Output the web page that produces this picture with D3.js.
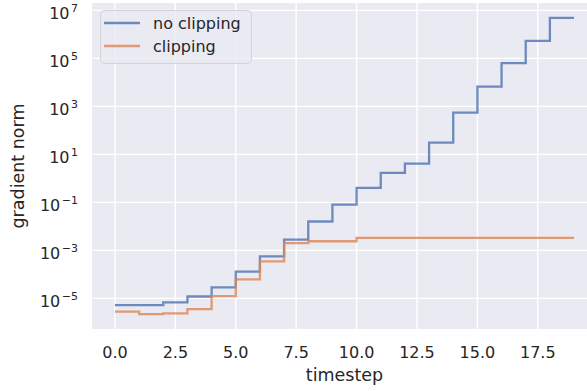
<!DOCTYPE html>
<html>
<head>
<meta charset="utf-8">
<script src="https://cdn.jsdelivr.net/npm/d3@7"></script>
<style>
  html, body { margin: 0; padding: 0; background: #ffffff; }
  svg { display: block; }
  text { font-family: "DejaVu Sans", sans-serif; fill: #262626; }
</style>
</head>
<body>
<svg id="chart" width="587" height="391"></svg>
<script>
// Gradient norm per timestep, with and without gradient clipping
const timesteps = d3.range(0, 20);
const noClipping = [5.2e-6, 5.2e-6, 6.8e-6, 1.2e-5, 2.9e-5, 1.3e-4, 5.6e-4, 2.8e-3, 1.6e-2, 8.0e-2,
                    0.40, 1.7, 4.1, 31, 550, 6600, 63000, 5.4e5, 4.9e6, 4.9e6];
const clipping = [2.8e-6, 2.2e-6, 2.4e-6, 3.6e-6, 1.25e-5, 6.2e-5, 3.5e-4, 2.0e-3, 2.4e-3, 2.4e-3,
                  3.3e-3, 3.3e-3, 3.3e-3, 3.3e-3, 3.3e-3, 3.3e-3, 3.3e-3, 3.3e-3, 3.3e-3, 3.3e-3];
const seriesNames = ["no clipping", "clipping"];
const xTicks = [0, 2.5, 5, 7.5, 10, 12.5, 15, 17.5, 20];
const yTickExponents = [-5, -3, -1, 1, 3, 5, 7];

const colors = ["#4C72B0", "#DD8452"];
const series = [noClipping, clipping];

const svg = d3.select("#chart");
const plot = { left: 92, right: 597, top: 3, bottom: 329 };

// Axis limits padded by 5% like matplotlib's default margins
const xMin = d3.min(timesteps), xMax = d3.max(timesteps);
const xPad = (xMax - xMin) * 0.05;
const x = d3.scaleLinear().domain([xMin - xPad, xMax + xPad]).range([plot.left, plot.right]);

const allLog = series.flat().map(v => Math.log10(v));
const lMin = d3.min(allLog), lMax = d3.max(allLog);
const lPad = (lMax - lMin) * 0.05;
const y = d3.scaleLog().domain([Math.pow(10, lMin - lPad), Math.pow(10, lMax + lPad)])
  .range([plot.bottom, plot.top]);

// Axes background
svg.append("rect")
  .attr("x", plot.left).attr("y", plot.top)
  .attr("width", plot.right - plot.left).attr("height", plot.bottom - plot.top)
  .attr("fill", "#EAEAF2");

svg.append("defs").append("clipPath").attr("id", "plot-clip")
  .append("rect")
  .attr("x", plot.left).attr("y", plot.top)
  .attr("width", plot.right - plot.left).attr("height", plot.bottom - plot.top);

// Grid lines
const grid = svg.append("g").attr("clip-path", "url(#plot-clip)");
grid.selectAll("line.vx").data(xTicks).enter().append("line")
  .attr("x1", d => x(d)).attr("x2", d => x(d))
  .attr("y1", plot.top).attr("y2", plot.bottom)
  .attr("stroke", "#ffffff").attr("stroke-width", 1.45);
grid.selectAll("line.hy").data(yTickExponents).enter().append("line")
  .attr("y1", d => y(Math.pow(10, d))).attr("y2", d => y(Math.pow(10, d)))
  .attr("x1", plot.left).attr("x2", plot.right)
  .attr("stroke", "#ffffff").attr("stroke-width", 1.45);

// X tick labels
svg.append("g").selectAll("text").data(xTicks.filter(t => x(t) < 587)).enter().append("text")
  .attr("x", d => x(d)).attr("y", 358)
  .attr("text-anchor", "middle")
  .attr("font-size", 16)
  .text(d => d3.format(".1f")(d));

// Y tick labels in 10^n form
const yLabels = svg.append("g").selectAll("text").data(yTickExponents).enter().append("text")
  .attr("x", 78).attr("y", d => y(Math.pow(10, d)) + 8.5)
  .attr("text-anchor", "end")
  .attr("font-size", 16);
yLabels.append("tspan").text("10");
yLabels.append("tspan")
  .attr("dx", 1.5).attr("dy", -7).attr("font-size", 11)
  .text(d => (d < 0 ? "\u2212" : "") + Math.abs(d));

// Axis labels
svg.append("text")
  .attr("x", (plot.left + plot.right) / 2).attr("y", 381)
  .attr("text-anchor", "middle").attr("font-size", 17.5)
  .text("timestep");
svg.append("text")
  .attr("transform", `translate(23.5, ${(plot.top + plot.bottom) / 2}) rotate(-90)`)
  .attr("text-anchor", "middle").attr("font-size", 17.5)
  .text("gradient norm");

// Step lines
const line = d3.line()
  .x((d, i) => x(timesteps[i]))
  .y(d => y(d))
  .curve(d3.curveStepAfter);

svg.append("g").attr("clip-path", "url(#plot-clip)")
  .selectAll("path").data(series).enter().append("path")
  .attr("d", d => line(d))
  .attr("fill", "none")
  .attr("stroke", (d, i) => colors[i])
  .attr("stroke-opacity", 0.8)
  .attr("stroke-width", 2.3);

// Legend
const legend = svg.append("g");
legend.append("rect")
  .attr("x", 100.5).attr("y", 10.5).attr("width", 151).attr("height", 53)
  .attr("rx", 4).attr("ry", 4)
  .attr("fill", "#EAEAF2").attr("fill-opacity", 0.8)
  .attr("stroke", "#D2D2D8").attr("stroke-width", 1);
const items = legend.selectAll("g.item").data(seriesNames).enter().append("g")
  .attr("transform", (d, i) => `translate(0, ${23 + i * 23})`);
items.append("line")
  .attr("x1", 104).attr("x2", 140).attr("y1", 0).attr("y2", 0)
  .attr("stroke", (d, i) => colors[i]).attr("stroke-opacity", 0.8).attr("stroke-width", 2.3);
items.append("text")
  .attr("x", 153).attr("y", 5.8)
  .attr("font-size", 16)
  .text(d => d);
</script>
</body>
</html>
